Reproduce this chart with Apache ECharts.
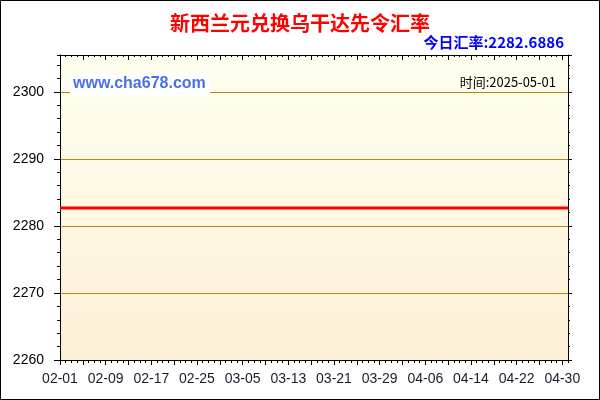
<!DOCTYPE html>
<html>
<head>
<meta charset="utf-8">
<script src="https://cdn.jsdelivr.net/npm/echarts@6/dist/echarts.min.js"></script>
<style>
html,body{margin:0;padding:0;background:#fff;}
#chart{width:600px;height:400px;}
</style>
</head>
<body>
<div id="chart"></div>
<script>
const titleText = '新西兰元兑换乌干达先令汇率';
const rateText = '今日汇率:2282.6886';
const timeText = '时间:2025-05-01';
const siteText = 'www.cha678.com';

const dates = [
 '02-01','02-02','02-03','02-04','02-05','02-06','02-07','02-08','02-09','02-10',
 '02-11','02-12','02-13','02-14','02-15','02-16','02-17','02-18','02-19','02-20',
 '02-21','02-22','02-23','02-24','02-25','02-26','02-27','02-28',
 '03-01','03-02','03-03','03-04','03-05','03-06','03-07','03-08','03-09','03-10',
 '03-11','03-12','03-13','03-14','03-15','03-16','03-17','03-18','03-19','03-20',
 '03-21','03-22','03-23','03-24','03-25','03-26','03-27','03-28','03-29','03-30','03-31',
 '04-01','04-02','04-03','04-04','04-05','04-06','04-07','04-08','04-09','04-10',
 '04-11','04-12','04-13','04-14','04-15','04-16','04-17','04-18','04-19','04-20',
 '04-21','04-22','04-23','04-24','04-25','04-26','04-27','04-28','04-29','04-30',
 '05-01'
];

const rates = [
 2282.6886,2282.6886,2282.6886,2282.6886,2282.6886,2282.6886,2282.6886,2282.6886,2282.6886,2282.6886,
 2282.6886,2282.6886,2282.6886,2282.6886,2282.6886,2282.6886,2282.6886,2282.6886,2282.6886,2282.6886,
 2282.6886,2282.6886,2282.6886,2282.6886,2282.6886,2282.6886,2282.6886,2282.6886,
 2282.6886,2282.6886,2282.6886,2282.6886,2282.6886,2282.6886,2282.6886,2282.6886,2282.6886,2282.6886,
 2282.6886,2282.6886,2282.6886,2282.6886,2282.6886,2282.6886,2282.6886,2282.6886,2282.6886,2282.6886,
 2282.6886,2282.6886,2282.6886,2282.6886,2282.6886,2282.6886,2282.6886,2282.6886,2282.6886,2282.6886,2282.6886,
 2282.6886,2282.6886,2282.6886,2282.6886,2282.6886,2282.6886,2282.6886,2282.6886,2282.6886,2282.6886,
 2282.6886,2282.6886,2282.6886,2282.6886,2282.6886,2282.6886,2282.6886,2282.6886,2282.6886,2282.6886,
 2282.6886,2282.6886,2282.6886,2282.6886,2282.6886,2282.6886,2282.6886,2282.6886,2282.6886,2282.6886,
 2282.6886
];

const yMin = 2260, yMax = 2305.5;

const chart = echarts.init(document.getElementById('chart'), null, {renderer:'canvas'});
const font = 'Liberation Sans, Arial, sans-serif';
const cjk = '"Noto Sans CJK SC", sans-serif';
const black = '#000';

function xAx(pos, interval, len, inside, withLine, withLabel) {
  return {
    type:'category', data:dates, boundaryGap:false, position:pos,
    axisLine:{show:withLine, onZero:false, lineStyle:{color:black, width:1}},
    axisTick:{show:true, interval:interval, length:len, inside:inside, lineStyle:{color:black}},
    axisLabel:{show:withLabel, interval:function(i){ return i % 8 === 0; }, margin:12, fontSize:14, color:'#1a1a2e', fontFamily:font},
    splitLine:{show:false}
  };
}
function yAx(pos, interval, len, inside, withLine, withLabel, withSplit) {
  return {
    type:'value', min:yMin, max:yMax, interval:interval, position:pos,
    axisLine:{show:withLine, lineStyle:{color:black, width:1}},
    axisTick:{show:true, length:len, inside:inside, lineStyle:{color:black}},
    axisLabel:{show:withLabel, margin:16, fontSize:14, color:'#000', fontFamily:font, showMaxLabel:false,
      formatter:function(v){ return String(v); }},
    splitLine:{show:withSplit, lineStyle:{color:'#B8860B', width:1}}
  };
}

chart.setOption({
  animation:false,
  backgroundColor:'#fff',
  grid:{
    left:60, right:32, top:55, bottom:40, show:true, borderWidth:0,
    backgroundColor:{type:'linear', x:0, y:0, x2:0, y2:1,
      colorStops:[{offset:0,color:'#FFFFF0'},{offset:1,color:'#FCEFD5'}]}
  },
  xAxis:[
    xAx('bottom', 3, 5, false, true, true),
    xAx('bottom', 0, 3, false, false, false),
    xAx('top', 3, 5, true, true, false),
    xAx('top', 0, 2, true, false, false)
  ],
  yAxis:[
    yAx('left', 10, 6, false, true, true, true),
    yAx('left', 2, 3, false, false, false, false),
    yAx('right', 10, 4, false, true, false, false),
    yAx('right', 2, 2, false, false, false, false)
  ],
  series:[{
    type:'line', data:rates, xAxisIndex:0, yAxisIndex:0,
    showSymbol:false, symbol:'none',
    lineStyle:{color:'#FF0000', width:3}, z:5
  }],
  graphic:[
    {type:'rect', shape:{x:0.5,y:0.5,width:599,height:399}, style:{fill:null, stroke:'#000', lineWidth:1}, z:100, silent:true},
    {type:'text', x:300, y:23, style:{text:titleText, fill:'#FF0000', font:'bold 20px ' + cjk, textAlign:'center', textVerticalAlign:'middle'}},
    {type:'text', x:564, y:42, style:{text:rateText, fill:'#0000FF', font:'bold 15px ' + cjk, textAlign:'right', textVerticalAlign:'middle'}},
    {type:'rect', shape:{x:70, y:73, width:140, height:23}, style:{fill:'#FFFFFF'}, z:10},
    {type:'text', x:73, y:84, style:{text:siteText, fill:'#4A70E8', font:'bold 16px ' + font, textAlign:'left', textVerticalAlign:'middle'}, z:11},
    {type:'text', x:556, y:82, style:{text:timeText, fill:'#000', font:'13px ' + cjk, textAlign:'right', textVerticalAlign:'middle'}, z:11}
  ]
});
</script>
</body>
</html>
